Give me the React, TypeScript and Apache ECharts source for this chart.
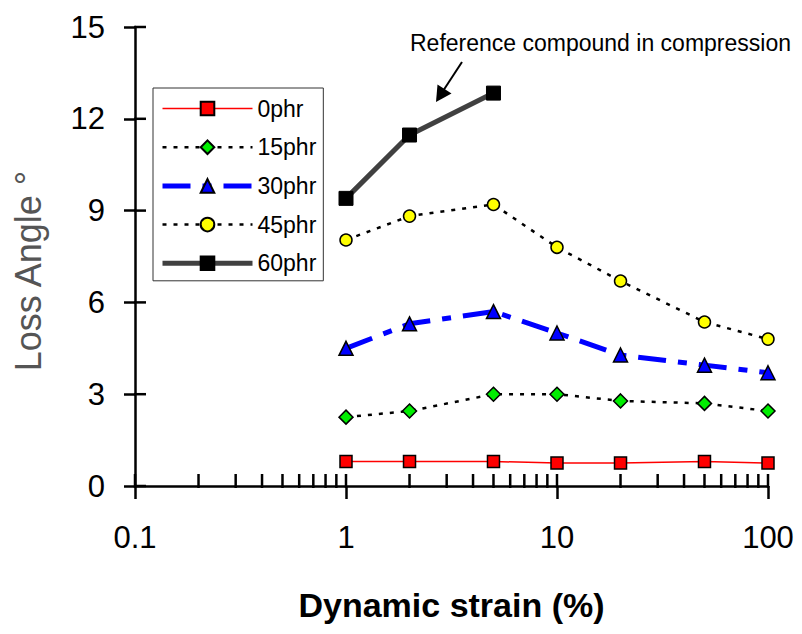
import React, { useEffect, useRef } from "react";
import * as echarts from "echarts";

// Strain amplitudes (%) at which loss angle was measured
const strain = [1, 2, 5, 10, 20, 50, 100];
const strain60 = [1, 2, 5];

// Loss angle (degrees) per filler loading
const phr0 = [0.8, 0.8, 0.8, 0.75, 0.75, 0.8, 0.75];
const phr15 = [2.25, 2.45, 3.0, 3.0, 2.78, 2.7, 2.45];
const phr30 = [4.5, 5.3, 5.7, 5.0, 4.28, 3.95, 3.7];
const phr45 = [8.04, 8.82, 9.2, 7.8, 6.7, 5.36, 4.8];
const phr60 = [9.4, 11.47, 12.84];

const seriesNames = ["0phr", "15phr", "30phr", "45phr", "60phr"];
const lineWidths = [1.5, 2.5, 5, 2.5, 5];

// Tick positions
const xMajorTicks = [0.1, 1, 10, 100];
const xMinorTicks = [
  0.2, 0.3, 0.4, 0.5, 0.6, 0.7, 0.8, 0.9,
  2, 3, 4, 5, 6, 7, 8, 9,
  20, 30, 40, 50, 60, 70, 80, 90,
];
const yTicks = [0, 3, 6, 9, 12, 15];

const yTitle = "Loss Angle °";
const xTitle = "Dynamic strain (%)";
const annotation = "Reference compound in compression";

const FONT = "'Liberation Sans', Arial, Helvetica, sans-serif";

const pairs = (xs: number[], ys: number[]) => xs.map((x, i) => [x, ys[i]]);

export default function App() {
  const ref = useRef<HTMLDivElement>(null);

  useEffect(() => {
    if (!ref.current) return;
    const chart = echarts.init(ref.current, undefined, { renderer: "svg" });

    const markerBorder = { borderColor: "#000", borderWidth: 1.5 };

    const option: any = {
      animation: false,
      backgroundColor: "#fff",
      grid: { left: 135, right: 34, top: 27, bottom: 148, containLabel: false },
      xAxis: {
        type: "log",
        logBase: 10,
        min: 0.1,
        max: 100,
        name: xTitle,
        nameLocation: "middle",
        nameGap: 102,
        nameTextStyle: { fontFamily: FONT, fontSize: 34, fontWeight: "bold", color: "#000" },
        axisLine: { show: true, onZero: false, lineStyle: { color: "#000", width: 2.5 } },
        axisTick: { show: true, inside: false, length: 13, lineStyle: { color: "#000", width: 2.5 } },
        minorTick: { show: false },
        splitLine: { show: false },
        axisLabel: {
          margin: 36,
          fontFamily: FONT,
          fontSize: 31,
          color: "#000",
          formatter: (v: number) => String(Number(v.toPrecision(3))),
        },
      },
      yAxis: {
        type: "value",
        min: 0,
        max: 15,
        interval: 3,
        axisLine: { show: true, lineStyle: { color: "#000", width: 2.5 } },
        axisTick: { show: true, inside: false, length: 11, lineStyle: { color: "#000", width: 2.5 } },
        splitLine: { show: false },
        axisLabel: { margin: 30, fontFamily: FONT, fontSize: 31, color: "#000" },
      },
      legend: {
        data: seriesNames.map((name, i) => ({ name, lineStyle: { width: lineWidths[i] } })),
        orient: "vertical",
        left: 153,
        top: 88,
        padding: [9, 7, 6, 7],
        itemGap: 15.7,
        itemWidth: 90,
        itemHeight: 17,
        borderColor: "#333",
        borderWidth: 1,
        backgroundColor: "#fff",
        textStyle: { fontFamily: FONT, fontSize: 23, color: "#000" },
      },
      graphic: [
        {
          type: "text",
          x: 28,
          y: 271,
          rotation: Math.PI / 2,
          style: {
            text: yTitle,
            font: `36px ${FONT}`,
            fill: "#555",
            textAlign: "center",
            textVerticalAlign: "middle",
          },
        },
        {
          type: "text",
          x: 410,
          y: 43,
          style: {
            text: annotation,
            font: `23px ${FONT}`,
            fill: "#000",
            textAlign: "left",
            textVerticalAlign: "middle",
          },
        },
        {
          type: "line",
          shape: { x1: 462, y1: 62, x2: 443, y2: 91 },
          style: { stroke: "#000", lineWidth: 2 },
        },
        {
          type: "polygon",
          shape: { points: [[436, 102], [437.5, 84.5], [451.5, 93.5]] },
          style: { fill: "#000" },
        },
      ],
      series: [
        {
          name: "0phr",
          type: "line",
          data: pairs(strain, phr0),
          symbol: "rect",
          symbolSize: 12,
          z: 3,
          lineStyle: { color: "#FF0000", width: lineWidths[0] },
          itemStyle: { color: "#FF0000", ...markerBorder },
        },
        {
          name: "15phr",
          type: "line",
          data: pairs(strain, phr15),
          symbol: "diamond",
          symbolSize: 14,
          z: 3,
          lineStyle: { color: "#000", width: lineWidths[1], type: [4, 7] },
          itemStyle: { color: "#00EE00", ...markerBorder },
        },
        {
          name: "30phr",
          type: "line",
          data: pairs(strain, phr30),
          symbol: "triangle",
          symbolSize: 14,
          z: 3,
          lineStyle: { color: "#0000FF", width: lineWidths[2], type: [28, 12, 9, 12] },
          itemStyle: { color: "#0000FF", ...markerBorder },
        },
        {
          name: "45phr",
          type: "line",
          data: pairs(strain, phr45),
          symbol: "circle",
          symbolSize: 12,
          z: 3,
          lineStyle: { color: "#000", width: lineWidths[3], type: [4, 7] },
          itemStyle: { color: "#FFFF00", ...markerBorder },
        },
        {
          name: "60phr",
          type: "line",
          data: pairs(strain60, phr60),
          symbol: "rect",
          symbolSize: 14,
          z: 3,
          lineStyle: { color: "#404040", width: lineWidths[4] },
          itemStyle: { color: "#000", borderColor: "#000", borderWidth: 1 },
        },
        // Inward x ticks (minor log ticks plus inner half of the decades)
        {
          type: "custom",
          silent: true,
          z: 2,
          data: [...xMajorTicks, ...xMinorTicks].map((v) => [v, 0]),
          renderItem: (_params: any, api: any) => {
            const p = api.coord([api.value(0), 0]);
            return {
              type: "line",
              shape: { x1: p[0], y1: p[1] - 12, x2: p[0], y2: p[1] + 2 },
              style: { stroke: "#000", lineWidth: 2.5 },
            };
          },
        },
        // Inward y ticks
        {
          type: "custom",
          silent: true,
          z: 2,
          data: yTicks.map((v) => [0.1, v]),
          renderItem: (_params: any, api: any) => {
            const p = api.coord([0.1, api.value(1)]);
            return {
              type: "line",
              shape: { x1: p[0] - 1, y1: p[1], x2: p[0] + 11, y2: p[1] },
              style: { stroke: "#000", lineWidth: 2.5 },
            };
          },
        },
      ],
    };

    chart.setOption(option);
    return () => chart.dispose();
  }, []);

  return (
    <div
      ref={ref}
      style={{ position: "fixed", left: 0, top: 0, width: 802, height: 634, background: "#fff" }}
    />
  );
}
